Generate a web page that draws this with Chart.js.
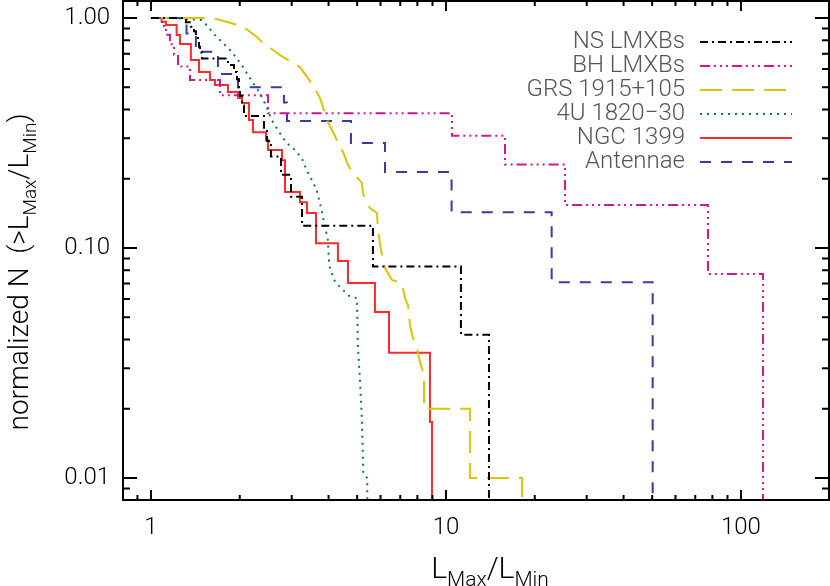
<!DOCTYPE html>
<html>
<head>
<meta charset="utf-8">
<script src="https://cdn.jsdelivr.net/npm/chart.js@4.4.1/dist/chart.umd.min.js"></script>
<style>
  html, body { margin: 0; padding: 0; background: #fff; }
  #wrap { width: 830px; height: 586px; }
</style>
</head>
<body>
<div id="wrap"><canvas id="chart" width="830" height="586"></canvas></div>
<script>
// tick labels
const xTicks = [1, 10, 100];
const xTickLabels = ['1', '10', '100'];
const yTicks = [0.01, 0.1, 1];
const yTickLabels = ['0.01', '0.10', '1.00'];

// NS LMXBs
const nsX = [1, 1.314, 1.366, 1.399, 1.42, 1.443, 1.455, 1.466, 1.489, 1.824, 1.912, 1.957, 1.988, 2.003, 2.035, 2.067, 2.416, 2.474, 2.551, 2.759, 2.983, 3.251, 5.656, 11.24, 13.99];
const nsY = [1, 0.958, 0.917, 0.875, 0.833, 0.792, 0.75, 0.708, 0.667, 0.625, 0.583, 0.542, 0.5, 0.458, 0.417, 0.375, 0.333, 0.292, 0.25, 0.208, 0.167, 0.125, 0.083, 0.042, 0.001];

// BH LMXBs
const bhX = [1, 1.09, 1.124, 1.16, 1.197, 1.235, 1.356, 1.714, 2.493, 10.48, 15.85, 25.32, 77.3, 118.8];
const bhY = [1, 0.923, 0.846, 0.769, 0.692, 0.615, 0.538, 0.462, 0.385, 0.308, 0.231, 0.154, 0.077, 0.001];

// GRS 1915+105
const grsX = [1, 1.61, 1.714, 1.972, 2.083, 2.287, 2.378, 2.592, 2.737, 3.029, 3.2, 3.406, 3.541, 3.74, 3.829, 3.981, 4.108, 4.304, 4.476, 4.654, 4.84, 5.191, 5.232, 5.526, 5.837, 5.883, 6.022, 6.213, 6.561, 7.093, 7.262, 7.434, 7.551, 7.73, 7.976, 8.165, 8.424, 8.424, 12.06, 12.06, 18.1, 18.1];
const grsY = [1, 1, 0.98, 0.932, 0.905, 0.827, 0.786, 0.726, 0.69, 0.637, 0.612, 0.548, 0.511, 0.449, 0.41, 0.353, 0.326, 0.289, 0.262, 0.23, 0.212, 0.192, 0.173, 0.149, 0.142, 0.12, 0.098, 0.0818, 0.0726, 0.0704, 0.0606, 0.0565, 0.0463, 0.0406, 0.0367, 0.0319, 0.028, 0.02, 0.02, 0.01, 0.01, 0.001];

// 4U 1820-30
const u4X = [1, 1.187, 1.485, 1.564, 1.622, 1.754, 1.877, 1.972, 2.051, 2.133, 2.217, 2.342, 2.467, 2.566, 2.737, 2.884, 3.077, 3.243, 3.372, 3.506, 3.645, 3.79, 3.89, 3.981, 4.012, 4.044, 4.205, 4.476, 4.727, 4.982, 5.005, 5.031, 5.11, 5.178, 5.219, 5.244, 5.41, 5.44];
const u4Y = [1, 1, 0.98, 0.917, 0.861, 0.779, 0.714, 0.657, 0.614, 0.565, 0.522, 0.472, 0.411, 0.36, 0.316, 0.286, 0.267, 0.246, 0.218, 0.198, 0.179, 0.146, 0.124, 0.108, 0.0887, 0.0818, 0.0714, 0.0657, 0.0614, 0.0606, 0.052, 0.0372, 0.0267, 0.0191, 0.0137, 0.0105, 0.00997, 0.001];

// NGC 1399
const ngcX = [1, 1.087, 1.124, 1.222, 1.254, 1.366, 1.455, 1.585, 1.648, 1.824, 1.972, 2.035, 2.149, 2.217, 2.454, 2.493, 2.781, 2.847, 3.2, 3.38, 3.626, 4.304, 4.654, 5.745, 6.411, 8.827, 8.966];
const ngcY = [1, 0.964, 0.932, 0.844, 0.771, 0.657, 0.582, 0.538, 0.511, 0.477, 0.449, 0.427, 0.36, 0.319, 0.295, 0.267, 0.241, 0.175, 0.158, 0.142, 0.105, 0.0878, 0.0704, 0.0527, 0.035, 0.0175, 0.001];

// Antennae
const antX = [1, 1.32, 1.42, 1.687, 1.972, 2.824, 2.891, 4.764, 6.213, 10.45, 22.82, 50.2];
const antY = [1, 0.857, 0.714, 0.571, 0.5, 0.429, 0.357, 0.286, 0.214, 0.143, 0.071, 0.001];

const FONT = 'Roboto, "DejaVu Sans", sans-serif';
const toPoints = (xs, ys) => xs.map((x, i) => ({x, y: ys[i]}));

const makeSet = (label, xs, ys, color, dash, stepped) => ({
    label,
    data: toPoints(xs, ys),
    borderColor: color,
    borderDash: dash,
    borderWidth: 2,
    stepped,
    pointRadius: 0,
    fill: false,
    tension: 0
});

// log ticks helper (minor + major)
function logTicks(min, max) {
    const out = [];
    for (let d = Math.floor(Math.log10(min)); d <= Math.ceil(Math.log10(max)); d++) {
        for (let m = 1; m <= 9; m++) {
            const v = m * Math.pow(10, d);
            if (v >= min * 0.999 && v <= max * 1.001) out.push({v, major: m === 1});
        }
    }
    return out;
}

// frame on all four sides, inward ticks, y tick labels
const frameTicks = {
    id: 'frameTicks',
    afterDatasetsDraw(chart) {
        const {ctx, chartArea: a, scales: {x, y}} = chart;
        ctx.save();
        ctx.strokeStyle = '#000';
        ctx.lineWidth = 2;
        ctx.setLineDash([]);
        ctx.strokeRect(a.left, a.top, a.right - a.left, a.bottom - a.top);
        ctx.beginPath();
        logTicks(x.min, x.max).forEach(t => {
            const px = x.getPixelForValue(t.v);
            const len = t.major ? 10 : 5;
            ctx.moveTo(px, a.bottom); ctx.lineTo(px, a.bottom - len);
            ctx.moveTo(px, a.top); ctx.lineTo(px, a.top + len);
        });
        logTicks(y.min, y.max).forEach(t => {
            const py = y.getPixelForValue(t.v);
            const len = t.major ? 14 : 7;
            ctx.moveTo(a.left, py); ctx.lineTo(a.left + len, py);
            ctx.moveTo(a.right, py); ctx.lineTo(a.right - len, py);
        });
        ctx.stroke();

        ctx.fillStyle = '#000';
        ctx.font = `300 24px ${FONT}`;
        ctx.textAlign = 'right';
        ctx.textBaseline = 'middle';
        yTicks.forEach((v, i) => ctx.fillText(yTickLabels[i], a.left - 13, y.getPixelForValue(v)));
        ctx.restore();
    }
};

// text with subscripts: parts = [[text, isSub], ...]
function drawParts(ctx, parts, cx, baseY, size, subSize) {
    const widths = parts.map(([t, sub]) => {
        ctx.font = `300 ${sub ? subSize : size}px ${FONT}`;
        return ctx.measureText(t).width;
    });
    let xx = cx - widths.reduce((s, w) => s + w, 0) / 2;
    parts.forEach(([t, sub], i) => {
        ctx.font = `300 ${sub ? subSize : size}px ${FONT}`;
        ctx.fillText(t, xx, baseY + (sub ? size * 0.28 : 0));
        xx += widths[i];
    });
}

const titlesLegend = {
    id: 'titlesLegend',
    afterDraw(chart) {
        const {ctx} = chart;
        ctx.save();
        ctx.fillStyle = '#000';
        ctx.textBaseline = 'alphabetic';
        ctx.textAlign = 'left';
        drawParts(ctx, [['L', false], ['Max', true], ['/L', false], ['Min', true]], 490, 578, 30, 21);

        ctx.translate(28, 272);
        ctx.rotate(-Math.PI / 2);
        drawParts(ctx, [['normalized N  (>L', false], ['Max', true], ['/L', false], ['Min', true], [')', false]], 0, 0, 28, 19);
        ctx.restore();

        // legend: text right, line sample left
        ctx.save();
        chart.data.datasets.forEach((ds, i) => {
            const yy = 42 + 24 * i;
            ctx.font = `300 24px ${FONT}`;
            ctx.fillStyle = '#555';
            ctx.textAlign = 'right';
            ctx.textBaseline = 'middle';
            ctx.fillText(ds.label, 685, yy);
            ctx.strokeStyle = ds.borderColor;
            ctx.lineWidth = 2;
            ctx.setLineDash(ds.borderDash || []);
            ctx.beginPath();
            ctx.moveTo(700, yy);
            ctx.lineTo(792, yy);
            ctx.stroke();
        });
        ctx.restore();
    }
};

new Chart(document.getElementById('chart'), {
    type: 'line',
    data: {
        datasets: [
            makeSet('NS LMXBs', nsX, nsY, '#000000', [8, 4, 2, 4], 'before'),
            makeSet('BH LMXBs', bhX, bhY, '#d4168a', [10, 4, 2, 4, 2, 4, 2, 4], 'before'),
            makeSet('GRS 1915+105', grsX, grsY, '#dcc400', [22, 10], false),
            makeSet('4U 1820\u221230', u4X, u4Y, '#0b7d3e', [2, 5], false),
            makeSet('NGC 1399', ngcX, ngcY, '#ff2b2b', [], 'before'),
            makeSet('Antennae', antX, antY, '#3a3aa6', [11, 10], 'before')
        ]
    },
    options: {
        responsive: false,
        animation: false,
        devicePixelRatio: 1,
        layout: {padding: {top: 1, right: 1, left: 0, bottom: 0}},
        plugins: {legend: {display: false}, tooltip: {enabled: false}},
        scales: {
            x: {
                type: 'logarithmic',
                min: 0.804,
                max: 198.8,
                afterBuildTicks: s => { s.ticks = xTicks.map(v => ({value: v})); },
                afterFit: s => { s.height = 86; },
                ticks: {
                    callback: (v, i) => xTickLabels[i],
                    color: '#000',
                    font: {family: FONT, size: 24, weight: 300},
                    padding: 14,
                    maxRotation: 0,
                    autoSkip: false
                },
                grid: {display: false, drawTicks: false},
                border: {display: false}
            },
            y: {
                type: 'logarithmic',
                min: 0.00802,
                max: 1.186,
                afterFit: s => { s.width = 123; },
                ticks: {display: false},
                grid: {display: false, drawTicks: false},
                border: {display: false}
            }
        }
    },
    plugins: [frameTicks, titlesLegend]
});
</script>
</body>
</html>
